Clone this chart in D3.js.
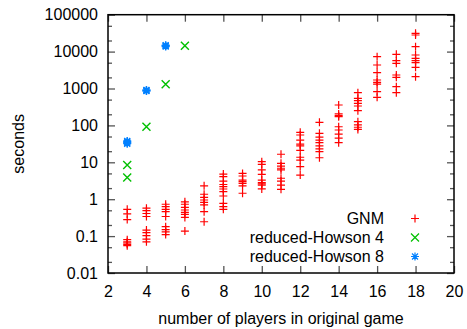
<!DOCTYPE html>
<html>
<head>
<meta charset="utf-8">
<script src="https://cdn.jsdelivr.net/npm/d3@7"></script>
<style>
  body { margin: 0; background: #fff; }
  svg { display: block; font-family: "Liberation Sans", Arial, sans-serif; }
</style>
</head>
<body>
<svg id="chart" width="467" height="329"></svg>
<script>
// data
const gnmPlayers = [3, 4, 5, 6, 7, 8, 9, 10, 11, 12, 13, 14, 15, 16, 17, 18];
const gnmSeconds = [
  [0.53, 0.40, 0.28, 0.08, 0.07, 0.065, 0.06, 0.055],
  [0.57, 0.49, 0.41, 0.34, 0.146, 0.124, 0.103, 0.083, 0.07],
  [0.73, 0.63, 0.53, 0.46, 0.34, 0.18, 0.15, 0.13, 0.11],
  [0.85, 0.73, 0.60, 0.51, 0.44, 0.39, 0.32, 0.137],
  [2.3, 1.36, 1.12, 0.95, 0.82, 0.70, 0.46, 0.245],
  [4.8, 4.07, 3.1, 2.5, 2.18, 1.89, 1.6, 1.22, 0.77, 0.63, 0.53],
  [5.0, 4.25, 3.3, 3.0, 2.7, 2.3, 1.45],
  [10.4, 8.8, 6.2, 4.7, 3.3, 2.8, 2.6, 2.4, 1.9],
  [16.5, 9.4, 7.9, 6.9, 6.2, 3.7, 3.1, 2.4, 1.85],
  [65, 55, 40, 31, 28, 21, 13.7, 11.5, 7.6, 4.5],
  [121, 61, 48, 40, 34, 28, 23, 19.4, 13.3],
  [357, 204, 183, 172, 92, 75, 58, 45, 34],
  [769, 542, 467, 397, 336, 250, 126, 103, 89, 78],
  [7270, 4340, 2680, 1700, 1470, 1320, 818, 578],
  [8450, 5660, 4820, 2320, 2010, 1120, 769],
  [31300, 28200, 13600, 8090, 6580, 5660, 5000, 3760, 2090]
];
const howson4Players = [3, 3, 4, 5, 6];
const howson4Seconds = [8.5, 3.9, 92, 1300, 14500];
const howson8Players = [3, 3, 3, 3, 4, 4, 4, 5, 5, 5];
const howson8Seconds = [32, 34, 36, 38, 850, 880, 910, 13800, 14300, 14900];

const xTicks = [2, 4, 6, 8, 10, 12, 14, 16, 18, 20];
const yTicks = [0.01, 0.1, 1, 10, 100, 1000, 10000, 100000];
const yTickLabels = ["0.01", "0.1", "1", "10", "100", "1000", "10000", "100000"];
const legendNames = ["GNM", "reduced-Howson 4", "reduced-Howson 8"];

const colors = ["#ff0000", "#00c000", "#0080ff"];

const svg = d3.select("#chart");
const plotLeft = 108, plotRight = 454, plotTop = 14.7, plotBottom = 273;

const x = d3.scaleLinear().domain([2, 20]).range([plotLeft, plotRight]);
const y = d3.scaleLog().domain([0.01, 100000]).range([plotBottom, plotTop]);

const yMinor = [];
yTicks.slice(0, -1).forEach(d => { yMinor.push(d * 2, d * 5); });

function styleAxis(g) {
  g.select(".domain").remove();
  g.selectAll("line").attr("stroke", "#555").attr("stroke-width", 1.3);
  g.selectAll("text").attr("fill", "#000").style("font-size", "16px")
    .style("font-family", '"Liberation Sans", Arial, sans-serif');
}

// x axis bottom + top
svg.append("g").attr("transform", `translate(0,${plotBottom})`)
  .call(d3.axisBottom(x).tickValues(xTicks).tickSize(-7).tickPadding(13).tickFormat(d3.format("d")))
  .call(styleAxis);
svg.append("g").attr("transform", `translate(0,${plotTop})`)
  .call(d3.axisTop(x).tickValues(xTicks).tickSize(-7).tickFormat(""))
  .call(styleAxis);

// y axis left + right
svg.append("g").attr("transform", `translate(${plotLeft},0)`)
  .call(d3.axisLeft(y).tickValues(yTicks).tickSize(-7).tickPadding(10)
    .tickFormat((d, i) => yTickLabels[i]))
  .call(styleAxis);
svg.append("g").attr("transform", `translate(${plotLeft},0)`)
  .call(d3.axisLeft(y).tickValues(yMinor).tickSize(-4).tickFormat(""))
  .call(styleAxis);
svg.append("g").attr("transform", `translate(${plotRight},0)`)
  .call(d3.axisRight(y).tickValues(yTicks).tickSize(-7).tickFormat(""))
  .call(styleAxis);
svg.append("g").attr("transform", `translate(${plotRight},0)`)
  .call(d3.axisRight(y).tickValues(yMinor).tickSize(-4).tickFormat(""))
  .call(styleAxis);

// border
svg.append("rect")
  .attr("x", plotLeft).attr("y", plotTop)
  .attr("width", plotRight - plotLeft).attr("height", plotBottom - plotTop)
  .attr("fill", "none").attr("stroke", "#000").attr("stroke-width", 1.5);

// axis titles
svg.append("text")
  .attr("x", (plotLeft + plotRight) / 2).attr("y", 324)
  .attr("text-anchor", "middle").style("font-size", "16px")
  .text("number of players in original game");
svg.append("text")
  .attr("transform", `translate(24,${(plotTop + plotBottom) / 2}) rotate(-90)`)
  .attr("text-anchor", "middle").style("font-size", "16px")
  .text("seconds");

// marker paths
const plus = r => `M${-r},0H${r}M0,${-r}V${r}`;
const cross = r => `M${-r},${-r}L${r},${r}M${-r},${r}L${r},${-r}`;
const star = r => plus(r) + cross(r * 0.75);
const shapes = [plus(4), cross(4), star(4)];

const gnmPoints = [];
gnmPlayers.forEach((p, i) => gnmSeconds[i].forEach(s => gnmPoints.push([p, s])));
const h4Points = howson4Players.map((p, i) => [p, howson4Seconds[i]]);
const h8Points = howson8Players.map((p, i) => [p, howson8Seconds[i]]);

[gnmPoints, h4Points, h8Points].forEach((pts, k) => {
  svg.append("g").selectAll("path")
    .data(pts)
    .enter()
    .append("path")
    .attr("transform", d => `translate(${x(d[0])},${y(d[1])})`)
    .attr("d", shapes[k])
    .attr("fill", "none")
    .attr("stroke", colors[k])
    .attr("stroke-width", k === 0 ? 1.2 : 1.4);
});

// legend
const legend = svg.append("g");
legendNames.forEach((name, i) => {
  const cy = 218.5 + i * 19;
  legend.append("text")
    .attr("x", 384).attr("y", cy + 5.5)
    .attr("text-anchor", "end").style("font-size", "16px")
    .text(name);
  legend.append("path")
    .attr("transform", `translate(415,${cy})`)
    .attr("d", shapes[i])
    .attr("fill", "none").attr("stroke", colors[i]).attr("stroke-width", 1.2);
});
</script>
</body>
</html>
